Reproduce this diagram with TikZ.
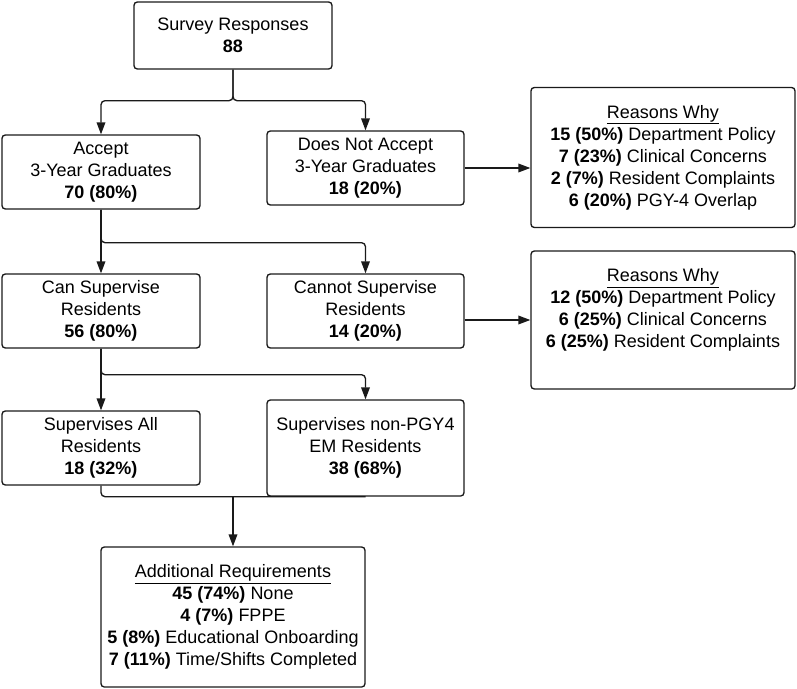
\documentclass[tikz,border=0pt]{standalone}
\usepackage{fontspec}
\setmainfont{Liberation Sans}
\usetikzlibrary{arrows.meta,positioning}
\definecolor{flowline}{HTML}{1A1A1A}

\begin{document}
\begin{tikzpicture}[
  x=0.75pt, y=-0.75pt,
  every node/.style={font=\fontsize{13.5}{16.5}\selectfont},
  box/.style={draw=flowline, line width=1pt, rounded corners=2.5pt, align=center,
              minimum width=148.5pt, minimum height=55.5pt, inner sep=2pt},
  reasons/.style={box, minimum width=198pt, minimum height=105pt},
  arrow/.style={-{Triangle[length=9pt, width=6.5pt]}, line width=1pt, draw=flowline,
                rounded corners=3pt},
  joint/.style={line width=1pt, draw=flowline, rounded corners=3pt}
]
\useasboundingbox (0,0) rectangle (797,689);

\node[box, minimum height=50.25pt] (survey) at (233,35.5) {Survey Responses\\\textbf{88}};
\node[box] (accept) at (101,172) {Accept\\3-Year Graduates\\\textbf{70 (80\%)}};
\node[box, minimum width=147.75pt] (noaccept) at (365.5,168) {Does Not Accept\\3-Year Graduates\\\textbf{18 (20\%)}};
\node[reasons] (whyno) at (663,157.5) {\underline{Reasons Why}\\
  \textbf{15 (50\%)} Department Policy\\
  \textbf{7 (23\%)} Clinical Concerns\\
  \textbf{2 (7\%)} Resident Complaints\\
  \textbf{6 (20\%)} PGY-4 Overlap};
\node[box] (cansup) at (101,311) {Can Supervise\\Residents\\\textbf{56 (80\%)}};
\node[box, minimum width=147.75pt] (cantsup) at (365.5,311) {Cannot Supervise\\Residents\\\textbf{14 (20\%)}};
\node[reasons, minimum height=103.5pt, text depth=17.5pt] (whycant) at (663,320) {\underline{Reasons Why}\\
  \textbf{12 (50\%)} Department Policy\\
  \textbf{6 (25\%)} Clinical Concerns\\
  \textbf{6 (25\%)} Resident Complaints};
\node[box] (supall) at (101,448) {Supervises All\\Residents\\\textbf{18 (32\%)}};
\node[box, minimum width=147.75pt, minimum height=72pt] (suppart) at (365.5,448) {Supervises non-PGY4\\EM Residents\\\textbf{38 (68\%)}};
\node[reasons] (extra) at (233,617) {\underline{Additional Requirements}\\
  \textbf{45 (74\%)} None\\
  \textbf{4 (7\%)} FPPE\\
  \textbf{5 (8\%)} Educational Onboarding\\
  \textbf{7 (11\%)} Time/Shifts Completed};

% splits
\draw[arrow] (survey.south) -- ++(0,31) -| (accept.north);
\draw[arrow] (survey.south) -- ++(0,31) -| (noaccept.north);
\draw[arrow] (accept) -- (cansup);
\draw[arrow] (accept.south) -- ++(0,33) -| (cantsup.north);
\draw[arrow] (cansup) -- (supall);
\draw[arrow] (cansup.south) -- ++(0,26) -| (suppart.north);

% side reasons
\draw[arrow] (noaccept.east) -- (noaccept.east -| whyno.west);
\draw[arrow] (cantsup.east |- whycant.west) -- (whycant.west);

% merge
\draw[joint] (supall.south) |- (suppart.south);
\draw[arrow] (extra.north |- suppart.south) -- (extra.north);
\end{tikzpicture}
\end{document}
